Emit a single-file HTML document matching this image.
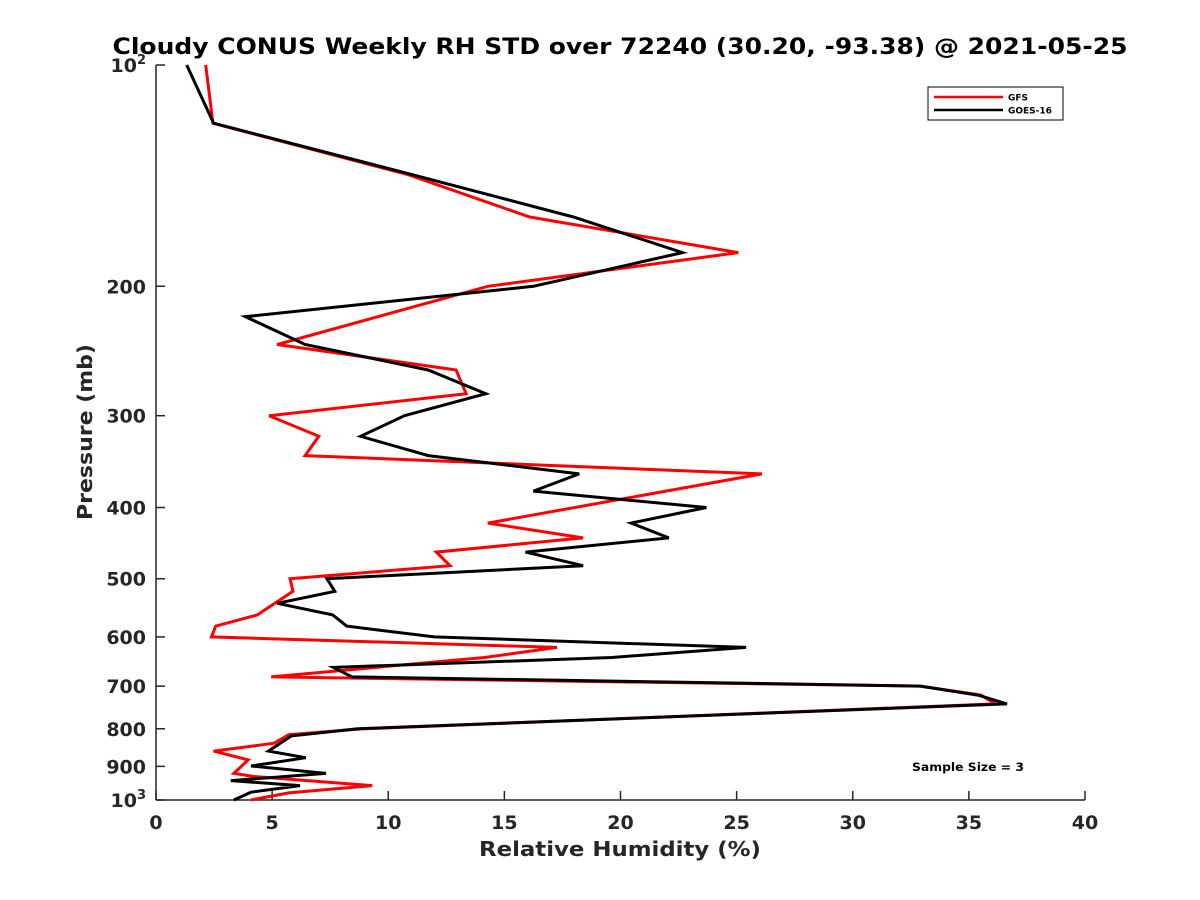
<!DOCTYPE html>
<html><head><meta charset="utf-8"><style>
html,body{margin:0;padding:0;background:#fff;}
svg{display:block;font-family:"DejaVu Sans","Liberation Sans",sans-serif;}
</style></head><body>
<svg id="chart" width="1200" height="900" viewBox="0 0 1200 900">
<rect width="1200" height="900" fill="#fff"/>
<text x="620" y="54" text-anchor="middle" font-size="22" font-weight="bold" textLength="1015" lengthAdjust="spacingAndGlyphs">Cloudy CONUS Weekly RH STD over 72240 (30.20, -93.38) @ 2021-05-25</text>
<g id="axes"></g>
<g id="series"></g>
<text x="620" y="856" text-anchor="middle" font-size="20" font-weight="bold" fill="#262626" textLength="282" lengthAdjust="spacingAndGlyphs">Relative Humidity (%)</text>
<text transform="translate(92,432) rotate(-90)" text-anchor="middle" font-size="20" font-weight="bold" fill="#262626" textLength="176" lengthAdjust="spacingAndGlyphs">Pressure (mb)</text>
<g>
<rect x="928" y="87" width="135" height="33" fill="#fff" stroke="#000" stroke-width="1"/>
<line x1="934" y1="97" x2="1003" y2="97" stroke="#f00" stroke-width="2.5"/>
<text x="1008" y="100.5" font-size="9" font-weight="bold">GFS</text>
<line x1="934" y1="110" x2="1003" y2="110" stroke="#000" stroke-width="2.5"/>
<text x="1008" y="113.5" font-size="9" font-weight="bold">GOES-16</text>
</g>
<text x="968" y="771" text-anchor="middle" font-size="11.5" font-weight="bold" textLength="112" lengthAdjust="spacingAndGlyphs">Sample Size = 3</text>
</svg>
<script>
const xTicks = [0,5,10,15,20,25,30,35,40];
const yTickVals = [100,200,300,400,500,600,700,800,900,1000];
const yTickLabels = ["10^2","200","300","400","500","600","700","800","900","10^3"];
const gfsP = [100,120,141,161,180,200,240,260,280,300,320,340,360,420,440,460,480,500,520,560,580,600,620,640,680,700,720,740,800,815,837,858,882,920,929,956,978,1000];
const gfsRH = [2.14,2.45,10.86,16.09,25.07,14.29,5.22,12.92,13.35,4.87,7.01,6.42,26.09,14.29,18.39,12.07,12.66,5.77,5.90,4.36,2.57,2.39,17.26,14.15,4.96,32.91,35.52,36.14,8.93,5.71,5.09,2.48,3.97,3.35,4.21,9.31,5.71,4.09];
const goesP = [100,120,141,161,180,200,220,240,260,280,300,320,340,360,380,400,420,440,460,480,500,520,540,560,580,600,620,640,660,680,700,720,740,800,818,858,876,899,920,941,956,976,1000];
const goesRH = [1.32,2.48,11.04,17.97,22.67,16.25,3.85,6.42,11.72,14.2,10.7,8.81,11.72,18.22,16.25,23.7,20.45,22.08,15.91,18.39,7.36,7.70,5.22,7.61,8.21,11.98,25.41,19.62,7.64,8.44,32.91,35.39,36.64,8.68,5.83,4.84,6.45,4.09,7.32,3.22,6.2,4.09,3.35];

const X0=156,X1=1085,Y0=65,Y1=800;
function xs(v){return X0+(v-0)/40*(X1-X0);}
function ys(p){return Y0+Math.log10(p/100)*(Y1-Y0);}
const NS="http://www.w3.org/2000/svg";
const axes=document.getElementById('axes');
function mk(tag,attrs,parent){const e=document.createElementNS(NS,tag);for(const k in attrs)e.setAttribute(k,attrs[k]);parent.appendChild(e);return e;}
let l=mk('line',{x1:X0,y1:Y0,x2:X0,y2:Y1,stroke:'#262626','stroke-width':1.5},axes);


l=mk('line',{x1:X0,y1:Y1,x2:X1,y2:Y1,stroke:'#262626','stroke-width':1.5},axes);


xTicks.forEach(v=>{
  const x=xs(v);
  const t=mk('line',{x1:x,y1:Y1,x2:x,y2:Y1-9,stroke:'#262626','stroke-width':1.5},axes);
  
  
  const tx=mk('text',{x:x,y:Y1+29,'text-anchor':'middle','font-size':19,'font-weight':'bold',fill:'#262626'},axes);
  tx.textContent=String(v);
  
  
});
yTickVals.forEach((p,i)=>{
  const y=ys(p);
  const t=mk('line',{x1:X0,y1:y,x2:X0+9,y2:y,stroke:'#262626','stroke-width':1.5},axes);
  
  
  const lab=yTickLabels[i];
  if(lab.indexOf('^')>=0){
    const parts=lab.split('^');
    const tx=mk('text',{x:X0-10,y:y+7,'text-anchor':'end','font-size':19,'font-weight':'bold',fill:'#262626'},axes);
    const a=mk('tspan',{},tx); a.textContent=parts[0];
    const b=mk('tspan',{'font-size':13,dy:-8},tx); b.textContent=parts[1];
    
    
  } else {
    const tx=mk('text',{x:X0-10,y:y+7,'text-anchor':'end','font-size':19,'font-weight':'bold',fill:'#262626'},axes);
    tx.textContent=lab;
    
    
  }
});
const series=document.getElementById('series');
function drawLine(P,RH,color,name){
  const pts=P.map((p,i)=>xs(RH[i]).toFixed(1)+','+ys(p).toFixed(1)).join(' ');
  const pl=mk('polyline',{points:pts,fill:'none',stroke:color,'stroke-width':3,'stroke-linejoin':'miter','stroke-miterlimit':4},series);
  
  
}
drawLine(gfsP,gfsRH,'#f00','gfs-line');
drawLine(goesP,goesRH,'#000','goes16-line');
</script>
</body></html>
